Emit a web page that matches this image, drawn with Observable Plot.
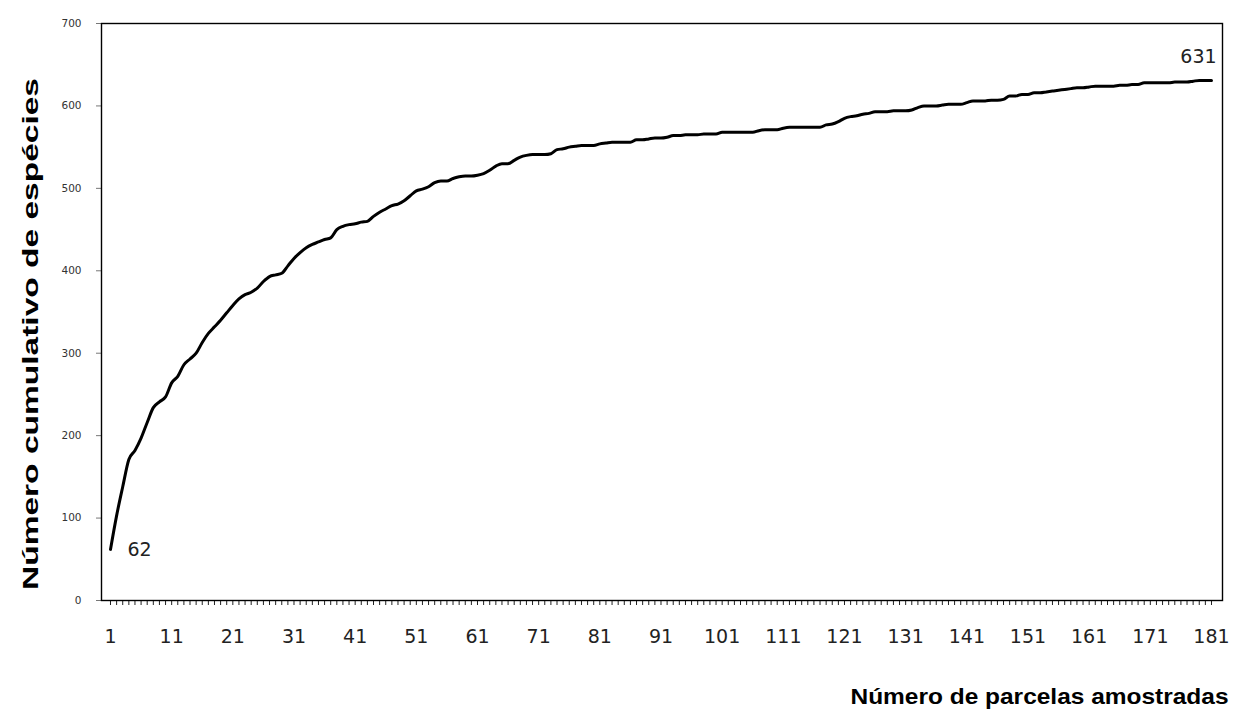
<!DOCTYPE html>
<html>
<head>
<meta charset="utf-8">
<script src="https://cdn.jsdelivr.net/npm/d3@7"></script>
<script src="https://cdn.jsdelivr.net/npm/@observablehq/plot@0.6"></script>
<style>
  html, body { margin: 0; padding: 0; background: #fff; }
</style>
</head>
<body>
<div id="chart"></div>
<script>
// Sample plot number (categories 1..181)
const parcelas = d3.range(1, 182);
// Cumulative number of species
const especies = [
  62, 103, 138, 171, 182, 197, 216, 234, 241, 247,
  264, 272, 286, 293, 300, 313, 324, 332, 340, 349,
  358, 366, 371, 374, 379, 387, 393, 395, 397, 406,
  415, 422, 428, 432, 435, 438, 440, 450, 454, 456,
  457, 459, 460, 466, 471, 475, 479, 481, 485, 491,
  497, 499, 502, 507, 509, 509, 512, 514, 515, 515,
  516, 518, 522, 527, 530, 530, 534, 538, 540, 541,
  541, 541, 542, 547, 548, 550, 551, 552, 552, 552,
  554, 555, 556, 556, 556, 556, 559, 559, 560, 561,
  561, 562, 564, 564, 565, 565, 565, 566, 566, 566,
  568, 568, 568, 568, 568, 568, 570, 571, 571, 571,
  573, 574, 574, 574, 574, 574, 574, 577, 578, 581,
  585, 587, 588, 590, 591, 593, 593, 593, 594, 594,
  594, 595, 598, 600, 600, 600, 601, 602, 602, 602,
  604, 606, 606, 606, 607, 607, 608, 612, 612, 614,
  614, 616, 616, 617, 618, 619, 620, 621, 622, 622,
  623, 624, 624, 624, 624, 625, 625, 626, 626, 628,
  628, 628, 628, 628, 629, 629, 629, 630, 631, 631,
  631
];
const yTicks = [0, 100, 200, 300, 400, 500, 600, 700];
const xTickLabels = [1, 11, 21, 31, 41, 51, 61, 71, 81, 91, 101, 111, 121, 131, 141, 151, 161, 171, 181];
const yTitle = "Número cumulativo de espécies";
const xTitle = "Número de parcelas amostradas";

const data = parcelas.map((p, i) => ({p, n: especies[i]}));
const ends = [data[0], data[data.length - 1]];

const chart = Plot.plot({
  width: 1239,
  height: 709,
  marginTop: 23,
  marginRight: 17,
  marginBottom: 109,
  marginLeft: 101,
  style: {background: "white", fontFamily: "DejaVu Sans", overflow: "visible"},
  x: {domain: [-0.471, 182.8]},
  y: {domain: [0, 700]},
  marks: [
    Plot.axisY(yTicks, {
      tickSize: 5, tickPadding: 15, fontSize: 10.5, fontFamily: "DejaVu Sans",
      stroke: "#777", fill: "#333", label: null
    }),
    Plot.axisX(parcelas, {
      tickSize: 5, tickPadding: 24, fontSize: 19, fontFamily: "DejaVu Sans",
      stroke: "#222", fill: "#222", label: null,
      tickFormat: d => xTickLabels.includes(d) ? String(d) : ""
    }),
    Plot.frame({stroke: "#000", strokeWidth: 1.4}),
    Plot.line(data, {x: "p", y: "n", stroke: "#000", strokeWidth: 3, curve: "monotone-x"}),
    Plot.text(ends, {
      x: "p", y: "n", text: d => String(d.n),
      fontSize: 19, fill: "#222", fontFamily: "DejaVu Sans",
      filter: (d, i) => i === 0, dx: 29, dy: 1
    }),
    Plot.text(ends, {
      x: "p", y: "n", text: d => String(d.n),
      fontSize: 19, fill: "#222", fontFamily: "DejaVu Sans",
      filter: (d, i) => i === 1, dx: -13, dy: -23
    }),
    Plot.text([yTitle], {
      text: d => d, frameAnchor: "left", rotate: -90, textAnchor: "start",
      dx: -71, dy: 278,
      fontSize: 22, fontWeight: "bold", fontFamily: "Liberation Sans", fill: "#000"
    }),
    Plot.text([xTitle], {
      text: d => d, frameAnchor: "bottom-right", textAnchor: "end", lineAnchor: "bottom",
      dx: 6, dy: 103,
      fontSize: 22, fontWeight: "bold", fontFamily: "Liberation Sans", fill: "#000"
    })
  ]
});

d3.select(chart).selectAll("text").each(function() {
  const t = this.textContent;
  if (t === yTitle) d3.select(this).attr("textLength", 512).attr("lengthAdjust", "spacingAndGlyphs");
  if (t === xTitle) d3.select(this).attr("textLength", 378).attr("lengthAdjust", "spacingAndGlyphs");
});

document.getElementById("chart").appendChild(chart);
</script>
</body>
</html>
